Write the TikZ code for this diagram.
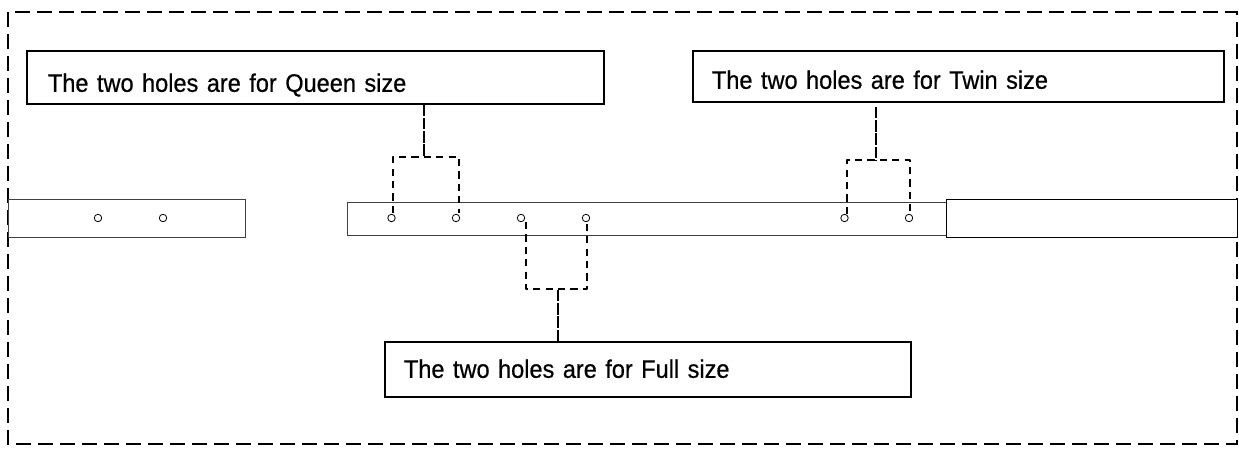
\documentclass[tikz,border=0pt]{standalone}
\usepackage{fontspec}
\setmainfont[FakeStretch=0.93,FakeBold=0.6]{Liberation Sans}
\newlength{\pxu}\setlength{\pxu}{0.75pt}
\tikzset{
  x=0.75pt,y=-0.75pt,
  frameline/.style={draw=black,line width=1.1pt,dash pattern=on 11pt off 5.5pt},
  labelbox/.style={draw=black,line width=1.4pt,fill=white,rectangle,inner xsep=0pt,inner ysep=0pt,align=left,font=\fontsize{19pt}{22pt}\selectfont},
  rail/.style={draw=black!75,line width=0.7pt,fill=white,rectangle,inner sep=0pt},
  hole/.style={draw=black,line width=0.6pt,fill=white,circle,inner sep=0pt,minimum size=5.6pt},
  legline/.style={draw=black,line width=1.2pt,dash pattern=on 5.4pt off 3.9pt,line join=round},
  stemline/.style={draw=black,line width=1.3pt,dash pattern=on 8.5pt off 1.4pt},
}
\begin{document}
\begin{tikzpicture}
\useasboundingbox (0,0) rectangle (1239,450);
\path[fill=white] (0,0) rectangle (1239,450);
% frame
\coordinate (fa) at (8,12);
\coordinate (fb) at (1237,444);
\draw[frameline] (fa) rectangle (fb);
% rails
\node[rail,anchor=north west,minimum width=237\pxu,minimum height=38\pxu] (railL) at (8,199) {};
\node[rail,anchor=north west,minimum width=599\pxu,minimum height=33\pxu] (railM) at (347,202) {};
\node[rail,draw=black,anchor=north west,minimum width=291\pxu,minimum height=38\pxu] (railR) at (946,199) {};
% holes
\node[hole] (hL1) at (98,218) {};
\node[hole] (hL2) at (163,218) {};
\node[hole] (hQ1) at (391.5,218) {};
\node[hole] (hQ2) at (456,218) {};
\node[hole] (hF1) at (521,218) {};
\node[hole] (hF2) at (586,218) {};
\node[hole] (hT1) at (844.5,218) {};
\node[hole] (hT2) at (909,218) {};
% label boxes
\node[labelbox,anchor=north west,minimum width=577\pxu,minimum height=53\pxu,text width=577\pxu] (bQ) at (26,50) {\hspace*{21\pxu}\strut\raisebox{-8.5\pxu}[0pt][0pt]{The two holes are for Queen size}};
\node[labelbox,anchor=north west,minimum width=531\pxu,minimum height=51\pxu,text width=531\pxu] (bT) at (692,50) {\hspace*{19\pxu}\strut\raisebox{-6.5\pxu}[0pt][0pt]{The two holes are for Twin size}};
\node[labelbox,anchor=north west,minimum width=526\pxu,minimum height=55\pxu,text width=526\pxu] (bF) at (384,341) {\hspace*{19\pxu}\strut\raisebox{-2.5\pxu}[0pt][0pt]{The two holes are for Full size}};
% queen connector
\coordinate (jQ) at (424,157);
\coordinate (lQ1) at (393,213);
\coordinate (lQ2) at (459,213);
\draw[stemline] (bQ.south -| jQ) -- (jQ);
\draw[legline] (lQ1) -- (lQ1 |- jQ) -- (lQ2 |- jQ) -- (lQ2);
% twin connector
\coordinate (jT) at (876,160);
\coordinate (lT1) at (847,214);
\coordinate (lT2) at (910,214);
\coordinate (sT) at (876,107);
\draw[stemline] (sT) -- (jT);
\draw[legline] (lT1) -- (lT1 |- jT) -- (lT2 |- jT) -- (lT2);
% full connector
\coordinate (jF) at (558,289);
\coordinate (lF1) at (525.7,222);
\coordinate (lF2) at (586.7,222);
\draw[stemline] (bF.north -| jF) -- (jF);
\draw[legline] (lF1) -- (lF1 |- jF) -- (lF2 |- jF) -- (lF2);
\end{tikzpicture}
\end{document}
